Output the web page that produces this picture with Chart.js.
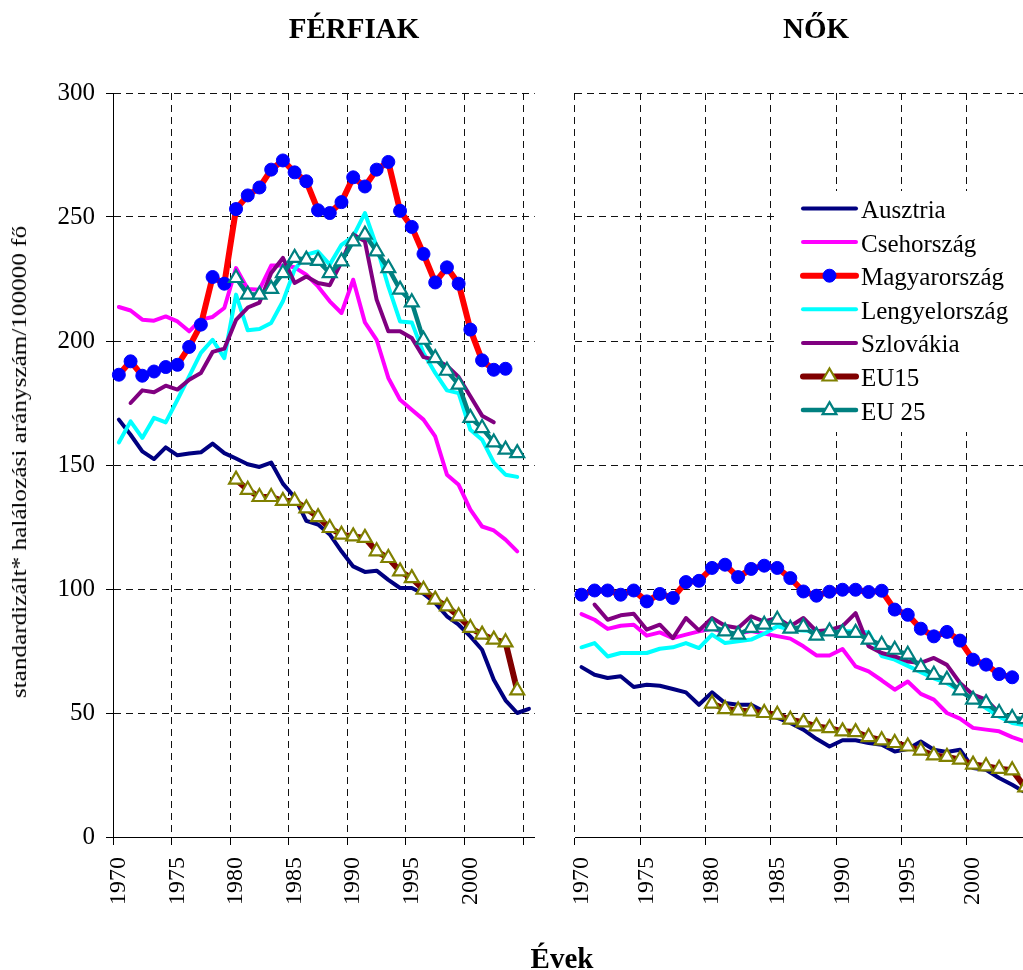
<!DOCTYPE html>
<html>
<head>
<meta charset="utf-8">
<script src="https://cdn.jsdelivr.net/npm/chart.js@4.4.1/dist/chart.umd.min.js"></script>
<style>
  body { margin: 0; background: #fff; }
  #page { position: relative; width: 1023px; height: 970px; overflow: hidden;
          font-family: "Liberation Serif", "Times New Roman", serif; color: #000; }
  .head { position: absolute; font-weight: bold; font-size: 29px; line-height: 29px;
          white-space: nowrap; transform: translateX(-50%); }
  .ytitle { position: absolute; left: 19px; top: 462px; font-size: 20px; line-height: 20px;
            white-space: nowrap; transform: translate(-50%, -50%) rotate(-90deg) scaleX(1.26); }
  #men { position: absolute; left: 0; top: 0; width: 545px; height: 970px; }
  #women { position: absolute; left: 545px; top: 0; width: 510px; height: 970px; }
</style>
</head>
<body>
<div id="page">
  <div id="men"><canvas id="menChart"></canvas></div>
  <div id="women"><canvas id="womenChart"></canvas></div>
  <div class="head" style="left:354px; top:14px;">FÉRFIAK</div>
  <div class="head" style="left:816px; top:14px;">NŐK</div>
  <div class="head" style="left:562px; top:944px;">Évek</div>
  <div class="ytitle">standardizált* halálozási arányszám/100000 fő</div>
</div>
<script>
var serif = '"Liberation Serif", "Times New Roman", serif';
var gridColor = '#111';

var years = [];
for (var yr = 1970; yr <= 2005; yr++) years.push(String(yr));

var seriesNames = ['Ausztria', 'Csehország', 'Magyarország', 'Lengyelország', 'Szlovákia', 'EU15', 'EU 25'];

// men, per 100 000
var austriaMen = [168.3, 162.2, 155.5, 152.4, 157.1, 153.9, 154.6, 155.1, 158.6, 154.8,
  152.6, 150.3, 149.2, 151, 142.5, 137, 127.5, 126, 122, 115.2,
  109.1, 106.9, 107.4, 103.7, 100.4, 100.4, 98.1, 94.4, 89, 85.6,
  80.9, 75.5, 63.4, 55.1, 50, 51.7];
var czechMen = [213.7, 212.3, 208.6, 208.2, 209.9, 207.9, 203.9, 208.6, 209.7, 213.3,
  229.4, 221, 220.7, 230.4, 230.4, 229.7, 226.7, 222, 216, 211.3,
  224.7, 207.5, 200.5, 185.1, 176.3, 172.3, 168.3, 161.5, 146.1, 142,
  132, 125.2, 123.6, 119.9, 115.2];
var hungaryMen = [186.4, 191.8, 186, 187.7, 189.5, 190.4, 197.6, 206.6, 225.8, 223.1,
  253.2, 258.7, 261.9, 269.1, 272.8, 268, 264.4, 252.7, 251.6, 256,
  266, 262.3, 269.1, 272.2, 252.5, 246, 235.1, 223.6, 229.7, 223.1,
  204.6, 192.2, 188.4, 188.8];
var polandMen = [159.1, 167.6, 160.9, 169, 167.2, 176.3, 185.7, 195.2, 200.5, 193.1,
  218.7, 204.3, 204.8, 207.3, 216, 228.8, 234.8, 236.1, 230.8, 238.8,
  242.2, 251.6, 238.1, 222, 207.9, 207.5, 195.2, 187.1, 180.1, 179,
  164.2, 160.2, 151, 146.1, 145.2];
var slovakiaMen = [175, 180.1, 179.3, 182, 180.4, 184.4, 187.1, 195.6, 196.9,
  208.5, 213.5, 215.5, 227.4, 233.5, 223.4, 226, 223.4, 222.5, 231.8,
  242.9, 240.2, 216.7, 203.9, 203.9, 201.2, 193.5, 192.5, 190, 185.5,
  177.7, 169.9, 167.2];
var eu15Men = [144.1, 140, 137.1, 137.1, 135.5, 135.5, 132.5, 129, 124.6, 121.9,
  121.2, 120.6, 115.2, 112.5, 107.1, 104.4, 99.7, 95.7, 93, 89,
  84.3, 81.6, 79.6, 78.5, 59.1];
var eu25Men = [225.4, 218.7, 218.7, 221, 227.4, 233.5, 232.8, 232.3, 227.4, 232.1,
  240.2, 242.9, 236.1, 229.4, 220.7, 215.6, 200.5, 193.1, 188, 182.4,
  169, 164.9, 159.1, 156.2, 154.8];

// women, per 100 000
var austriaWomen = [68.5, 65.4, 64.1, 64.8, 60.5, 61.4, 61, 59.7, 58.3, 53.3,
  58.3, 54, 53.3, 53.3, 50.6, 48, 46, 43.3, 39.6, 36.5,
  39, 39, 37.9, 37.2, 34.5, 35.5, 38.5, 35.2, 34.3, 35.2,
  27.8, 27.1, 23.8, 21.1, 18];
var czechWomen = [89.9, 87.6, 83.9, 85.2, 85.6, 81.2, 82.5, 80.2, 81.6, 82.9,
  84, 82.5, 82, 83, 82, 81, 80, 76.9, 73.2, 73.2,
  75.8, 68.8, 66.8, 63.2, 59.4, 62.7, 57.7, 55.4, 50, 47.7,
  44, 43.3, 42.6, 40.3, 38.5];
var hungaryWomen = [97.7, 99.4, 99.4, 97.7, 99.4, 95, 98, 96.4, 102.8, 103.3,
  108.5, 109.8, 104.8, 108.1, 109.4, 108.5, 104.4, 99, 97.3, 98.9,
  99.7, 99.7, 98.8, 99.3, 91.7, 89.6, 84, 80.9, 82.7, 79.2,
  71.5, 69.5, 65.7, 64.4];
var polandWomen = [76.5, 78.2, 72.8, 74.2, 74.2, 74.2, 75.9, 76.5, 78.2, 76.2,
  81.6, 78.2, 78.9, 79.6, 82, 85, 83.6, 83.3, 83, 83,
  83, 83, 82.5, 73, 71.5, 69, 66.5, 64, 62, 59,
  55.5, 52, 48.5, 46, 45];
var slovakiaWomen = [93.7, 87.6, 89.4, 90, 83.6, 85.6, 80.2, 88.3, 83.3,
  88.3, 85.2, 84.3, 89, 86.9, 88.3, 85, 88.3, 83, 83.5,
  85, 90.3, 76.9, 74.2, 72.8, 70.8, 70.2, 72.2, 69.4, 62.1,
  57.4, 55.4, 50];
var eu15Women = [53.8, 51.6, 51, 50.6, 50, 49.3, 47.3, 46.2, 44.6, 43.9,
  42.6, 42.3, 40.3, 39, 37.9, 36.5, 34.8, 32.9, 32.3, 31.2,
  29.2, 28.5, 27.5, 26.9, 20];
var eu25Women = [84.9, 82.9, 81.6, 84.3, 85.6, 87.6, 84, 84.7, 81.2, 82.9,
  82.3, 82.3, 79.6, 77.5, 75.5, 73.5, 68.5, 65.4, 63.4, 59.1,
  55.4, 54, 50, 48, 47.5];

// first year of each series (same for both sexes)
var startYears = [1970, 1970, 1970, 1970, 1971, 1980, 1980];

var styles = [
  { line: '#000080', width: 4 },
  { line: '#FF00FF', width: 4 },
  { line: '#FF0000', width: 6, marker: 'circle', radius: 6.5, fill: '#0000FF', edge: '#0000FF', edgeWidth: 1 },
  { line: '#00FFFF', width: 4 },
  { line: '#800080', width: 4 },
  { line: '#800000', width: 6, marker: 'triangle', radius: 8, fill: '#FFFFFF', edge: '#808000', edgeWidth: 2.2 },
  { line: '#008080', width: 4.5, marker: 'triangle', radius: 8, fill: '#FFFFFF', edge: '#008080', edgeWidth: 2.2 }
];

// place a series on the 1970-2005 category axis
function fromYear(start, values) {
  var out = [];
  for (var i = 0; i < years.length; i++) {
    var k = 1970 + i - start;
    out.push(k >= 0 && k < values.length ? values[k] : null);
  }
  return out;
}

function makeDatasets(list) {
  return list.map(function (values, i) {
    var st = styles[i];
    return {
      label: seriesNames[i],
      data: fromYear(startYears[i], values),
      borderColor: st.line,
      borderWidth: st.width,
      borderJoinStyle: 'round',
      borderCapStyle: 'round',
      pointStyle: st.marker || 'circle',
      pointRadius: st.marker ? st.radius : 0,
      pointBackgroundColor: st.fill,
      pointBorderColor: st.edge,
      pointBorderWidth: st.edgeWidth,
      tension: 0,
      order: list.length - 1 - i
    };
  });
}

function xAxis(firstLine) {
  return {
    type: 'category',
    offset: true,
    grid: {
      offset: true,
      tickLength: 8,
      color: function (c) { return c.index % 5 === 0 && (firstLine || c.index > 0) ? gridColor : 'rgba(0,0,0,0)'; },
      tickColor: function (c) { return c.index % 5 === 0 ? '#000' : 'rgba(0,0,0,0)'; }
    },
    border: { color: '#000', dash: [7, 5] },
    ticks: {
      autoSkip: false, minRotation: 90, maxRotation: 90, padding: 12,
      color: '#000', font: { family: serif, size: 24 },
      callback: function (v, i) { var y = 1970 + i; return (y % 5 === 0 && y <= 2000) ? String(y) : ''; }
    },
    afterFit: function (s) { s.height = 133; s.paddingLeft = 0; s.paddingRight = 0; }
  };
}

function yAxis(withLabels) {
  return {
    min: 0, max: 300,
    ticks: { display: withLabels, stepSize: 50, padding: 11, color: '#000', font: { family: serif, size: 25 } },
    grid: { color: gridColor, tickColor: '#000', tickLength: 7, drawTicks: withLabels },
    border: { display: withLabels, color: '#000', dash: [7, 5] },
    afterFit: function (s) { s.width = withLabels ? 113 : 30; s.paddingTop = 0; s.paddingBottom = 0; }
  };
}

// series key drawn inside the women's panel
var panelLegend = {
  id: 'panelLegend',
  afterDraw: function (chart) {
    var ctx = chart.ctx;
    ctx.save();
    ctx.fillStyle = '#fff';
    ctx.fillRect(231, 191, 300, 241);
    ctx.font = '25px ' + serif;
    ctx.textBaseline = 'middle';
    chart.data.datasets.forEach(function (ds, i) {
      var y = 208.5 + i * 33.6;
      ctx.lineCap = 'round';
      ctx.strokeStyle = ds.borderColor;
      ctx.lineWidth = ds.borderWidth;
      ctx.beginPath();
      ctx.moveTo(258, y);
      ctx.lineTo(311, y);
      ctx.stroke();
      if (ds.pointRadius) {
        var r = ds.pointRadius, cx = 284.5;
        ctx.beginPath();
        if (ds.pointStyle === 'circle') {
          ctx.arc(cx, y, r, 0, Math.PI * 2);
        } else {
          ctx.moveTo(cx, y - r);
          ctx.lineTo(cx + r * 0.866, y + r / 2);
          ctx.lineTo(cx - r * 0.866, y + r / 2);
          ctx.closePath();
        }
        ctx.fillStyle = ds.pointBackgroundColor;
        ctx.fill();
        ctx.strokeStyle = ds.pointBorderColor;
        ctx.lineWidth = ds.pointBorderWidth;
        ctx.lineJoin = 'miter';
        ctx.stroke();
      }
      ctx.fillStyle = '#000';
      ctx.fillText(ds.label, 316, y + 3);
    });
    ctx.restore();
  }
};

function baseOptions(left) {
  return {
    responsive: true,
    maintainAspectRatio: false,
    animation: false,
    events: [],
    layout: { padding: { left: 0, top: 93, right: 8, bottom: 0 } },
    plugins: { legend: { display: false }, tooltip: { enabled: false } },
    scales: { x: xAxis(!left), y: yAxis(left) }
  };
}

new Chart(document.getElementById('menChart'), {
  type: 'line',
  data: {
    labels: years,
    datasets: makeDatasets([austriaMen, czechMen, hungaryMen, polandMen, slovakiaMen, eu15Men, eu25Men])
  },
  options: baseOptions(true)
});

new Chart(document.getElementById('womenChart'), {
  type: 'line',
  data: {
    labels: years,
    datasets: makeDatasets([austriaWomen, czechWomen, hungaryWomen, polandWomen, slovakiaWomen, eu15Women, eu25Women])
  },
  options: baseOptions(false),
  plugins: [panelLegend]
});
</script>
</body>
</html>
